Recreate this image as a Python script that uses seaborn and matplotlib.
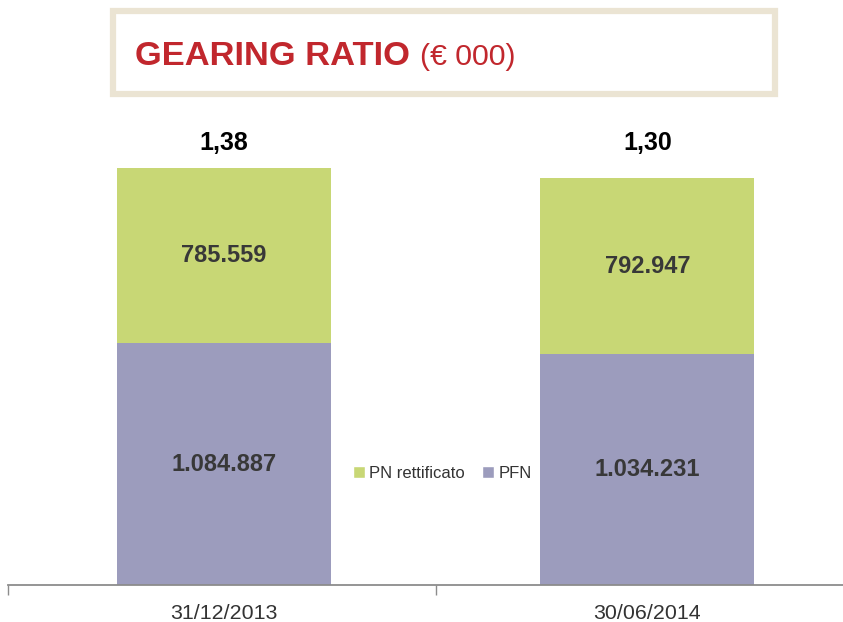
import matplotlib
matplotlib.use("Agg")
import matplotlib.pyplot as plt
from matplotlib.patches import Rectangle, Patch
import seaborn as sns
import pandas as pd

# Data (€ 000)
categories = ["31/12/2013", "30/06/2014"]
pfn = [1084887, 1034231]
pn_rettificato = [785559, 792947]
series_names = ["PN rettificato", "PFN"]

GREEN = "#C8D775"
PURPLE = "#9C9CBD"
RED = "#C1272D"
BEIGE = "#EBE4D3"
AXIS_GREY = "#8C8C8C"

sns.set_theme(style="white")
plt.rcParams["font.family"] = ["Liberation Sans", "DejaVu Sans"]


def fmt_it(v):
    return f"{v:,}".replace(",", ".")


df = pd.DataFrame({"periodo": categories, "PFN": pfn, "PN": pn_rettificato})
df["totale"] = df["PFN"] + df["PN"]
df["gearing"] = df["PFN"] / df["PN"]

fig = plt.figure(figsize=(8.43, 6.22), dpi=100)
ax = fig.add_axes([8 / 843, 37 / 622, 835 / 843, 480 / 622])

# stacked bars: total (green) first, PFN (purple) drawn over it
sns.barplot(data=df, x="periodo", y="totale", color=GREEN, saturation=1,
            width=0.505, ax=ax, linewidth=0)
sns.barplot(data=df, x="periodo", y="PFN", color=PURPLE, saturation=1,
            width=0.505, ax=ax, linewidth=0)

ax.set_xlabel("")
ax.set_ylabel("")
ax.set_yticks([])

for side in ["left", "right", "top"]:
    ax.spines[side].set_visible(False)
ax.spines["bottom"].set_color(AXIS_GREY)
ax.spines["bottom"].set_linewidth(1.3)

ax.set_xticks(range(len(categories)))
ax.set_xticklabels(categories, fontsize=15.4, color="#333333")
ax.set_xticks([-0.51, 0.5], minor=True)
ax.tick_params(axis="x", which="major", length=0, pad=14)
ax.tick_params(axis="x", which="minor", length=7, width=1, color=AXIS_GREY,
               bottom=True, direction="out")
ax.set_xlim(-0.51, 1.462)
ax.set_ylim(0, 2.153e6)

# segment labels and gearing ratio
for i, row in df.iterrows():
    ax.text(i, row["PFN"] / 2, fmt_it(row["PFN"]), ha="center", va="center",
            fontsize=17, fontweight="bold", color="#383838")
    ax.text(i, row["PFN"] + row["PN"] / 2, fmt_it(row["PN"]), ha="center",
            va="center", fontsize=17, fontweight="bold", color="#383838")
    ax.text(i, 0.921, f"{row['gearing']:.2f}".replace(".", ","),
            transform=ax.get_xaxis_transform(), ha="center", va="center",
            fontsize=18, fontweight="bold", color="black")

handles = [Patch(facecolor=GREEN, label=series_names[0]),
           Patch(facecolor=PURPLE, label=series_names[1])]
ax.legend(handles=handles, loc="center", bbox_to_anchor=(0.52, 0.233),
          ncol=2, frameon=False, fontsize=12, handlelength=0.75,
          handleheight=0.75, handletextpad=0.25, columnspacing=1.0,
          labelcolor="#333333")

# title box
fig.patches.append(Rectangle((113 / 843, 1 - 94 / 622), 662 / 843, 83 / 622,
                             transform=fig.transFigure, facecolor="white",
                             edgecolor=BEIGE, linewidth=4.5, zorder=0))
fig.text(135 / 843, 1 - 65 / 622, "GEARING RATIO", fontsize=24.8,
         fontweight="bold", color=RED, va="baseline", ha="left")
fig.text(420 / 843, 1 - 65 / 622, "(€ 000)", fontsize=21.8, color=RED,
         va="baseline", ha="left")

fig.savefig("out.png", dpi=100)
